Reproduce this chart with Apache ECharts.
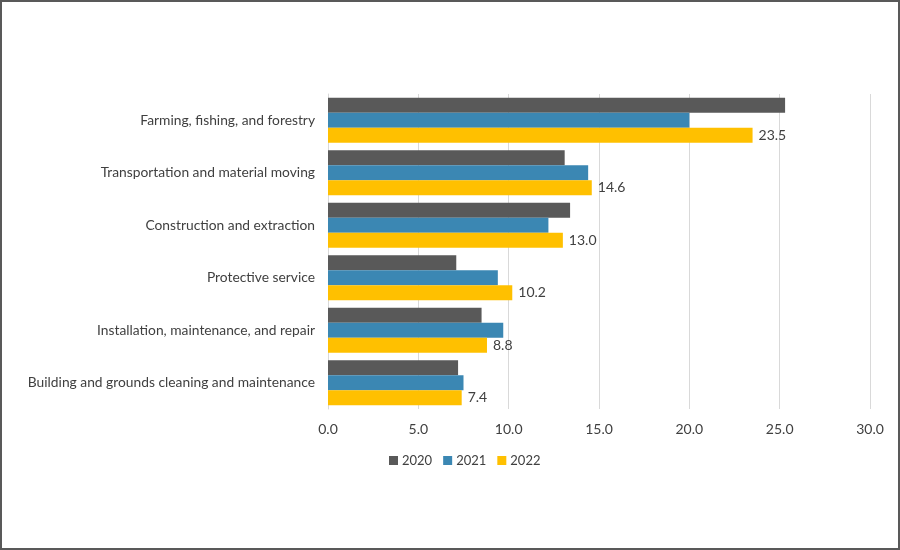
<!DOCTYPE html>
<html><head><meta charset="utf-8">
<script src="https://cdn.jsdelivr.net/npm/echarts@6/dist/echarts.min.js"></script>
<style>html,body{margin:0;padding:0;background:#fff}#c{width:900px;height:550px;box-sizing:border-box;border:2px solid #595959}</style>
</head><body><div id="c"></div>
<script>
const categories = ["Farming, fishing, and forestry","Transportation and material moving","Construction and extraction","Protective service","Installation, maintenance, and repair","Building and grounds cleaning and maintenance"];
const values2020 = [25.3, 13.1, 13.4, 7.1, 8.5, 7.2];
const values2021 = [20.0, 14.4, 12.2, 9.4, 9.7, 7.5];
const values2022 = [23.5, 14.6, 13.0, 10.2, 8.8, 7.4];
const xTicks = [0, 5, 10, 15, 20, 25, 30];

const font = "Lato, 'Noto Sans', sans-serif";
const chart = echarts.init(document.getElementById('c'));
chart.setOption({
  animation: false,
  textStyle: {fontFamily: font},
  grid: {left: 326, right: 28, top: 92, bottom: 139, containLabel: false},
  legend: {
    bottom: 76, left: 382, itemWidth: 9, itemHeight: 9, itemGap: 11,
    icon: 'rect',
    textStyle: {fontSize: 13, color: '#404040', fontFamily: font, padding: [0,0,0,-1]},
    data: ['2020','2021','2022']
  },
  xAxis: {
    type: 'value', min: xTicks[0], max: xTicks[xTicks.length-1], interval: 5,
    axisLine: {show: false}, axisTick: {show: false},
    splitLine: {lineStyle: {color: '#d9d9d9', width: 1}},
    axisLabel: {color: '#404040', fontSize: 14, margin: 13, formatter: v => v.toFixed(1)}
  },
  yAxis: {
    type: 'category', data: categories, inverse: true,
    axisLine: {show: true, lineStyle: {color: '#d9d9d9'}}, axisTick: {show: false},
    axisLabel: {color: '#404040', fontSize: 13.8, margin: 13}
  },
  series: [
    {name: '2020', type: 'bar', data: values2020, barGap: '0%', barCategoryGap: '14%',
     itemStyle: {color: '#595959'}},
    {name: '2021', type: 'bar', data: values2021,
     itemStyle: {color: '#3b87b3'}},
    {name: '2022', type: 'bar', data: values2022,
     itemStyle: {color: '#ffc000'},
     label: {show: true, position: 'right', color: '#404040', fontSize: 14, distance: 6, formatter: p => p.value.toFixed(1)}}
  ]
});
</script></body></html>
